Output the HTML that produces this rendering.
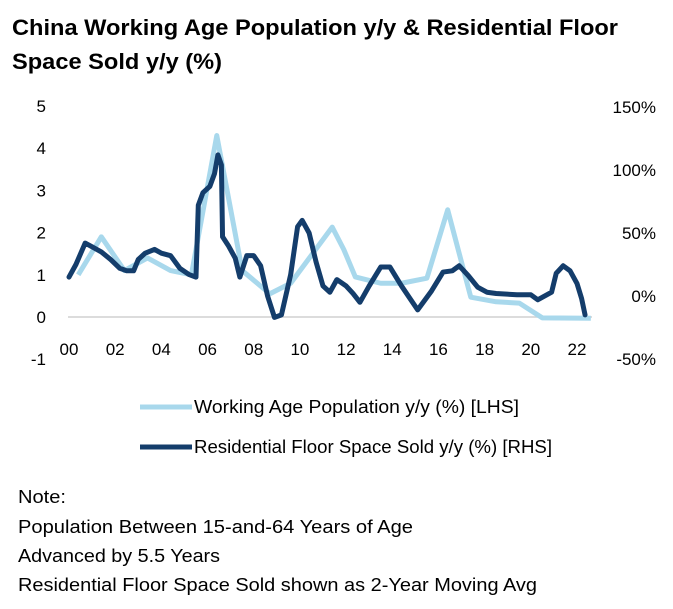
<!DOCTYPE html>
<html><head><meta charset="utf-8"><style>
body{margin:0;background:#fff;width:673px;height:609px;overflow:hidden;font-family:"Liberation Sans",sans-serif;color:#111}
svg{position:absolute;left:0;top:0}
</style></head><body>
<svg width="673" height="609">
<text x="12" y="35" font-size="22" font-weight="bold" textLength="606" lengthAdjust="spacingAndGlyphs">China Working Age Population y/y &amp; Residential Floor</text>
<text x="12" y="69" font-size="22" font-weight="bold" textLength="210" lengthAdjust="spacingAndGlyphs">Space Sold y/y (%)</text>
<line x1="68" x2="592" y1="317" y2="317" stroke="#d0d0d0" stroke-width="1.5"/>
<g id="yl" font-size="17"></g><g id="yr" font-size="17"></g><g id="xa" font-size="17"></g>
<g id="series"></g>
<line x1="140" x2="192" y1="407" y2="407" stroke="#a8d8ec" stroke-width="5"/>
<text x="194" y="413" font-size="18" textLength="325" lengthAdjust="spacingAndGlyphs">Working Age Population y/y (%) [LHS]</text>
<line x1="140" x2="192" y1="447" y2="447" stroke="#143d6b" stroke-width="5"/>
<text x="194" y="453" font-size="18" textLength="358" lengthAdjust="spacingAndGlyphs">Residential Floor Space Sold y/y (%) [RHS]</text>
<g font-size="18">
<text x="18" y="503" textLength="48" lengthAdjust="spacingAndGlyphs">Note:</text>
<text x="18" y="533" textLength="395" lengthAdjust="spacingAndGlyphs">Population Between 15-and-64 Years of Age</text>
<text x="18" y="562" textLength="202" lengthAdjust="spacingAndGlyphs">Advanced by 5.5 Years</text>
<text x="18" y="591" textLength="519" lengthAdjust="spacingAndGlyphs">Residential Floor Space Sold shown as 2-Year Moving Avg</text>
</g>
</svg>
<script>
const leftTicks=[5,4,3,2,1,0,-1];
const rightTicks=[150,100,50,0,-50];
const xTicks=["00","02","04","06","08","10","12","14","16","18","20","22"];
const popYears=[2000.4,2001.4,2002.4,2003.4,2004.4,2005.3,2006.4,2007.5,2008.7,2009.6,2011.4,2011.9,2012.4,2013.5,2014.4,2015.5,2016.4,2017.4,2018.5,2019.5,2020.5,2022.6];
const popValues=[1.0,1.9,1.1,1.4,1.1,1.0,4.3,1.1,0.55,0.8,2.13,1.6,0.95,0.8,0.8,0.92,2.54,0.47,0.36,0.33,-0.02,-0.03];
const floorYears=[2000,2000.3,2000.7,2001,2001.4,2001.8,2002.2,2002.5,2002.8,2003,2003.3,2003.7,2004,2004.4,2004.8,2005.2,2005.5,2005.6,2005.8,2006.1,2006.3,2006.45,2006.6,2006.65,2006.9,2007.2,2007.4,2007.7,2008,2008.3,2008.6,2008.9,2009.2,2009.6,2009.9,2010.1,2010.4,2010.7,2011,2011.3,2011.6,2012,2012.3,2012.6,2013.0,2013.5,2013.9,2014.4,2015.1,2015.7,2016.2,2016.6,2016.9,2017.3,2017.7,2018.1,2018.5,2019.4,2020.0,2020.3,2020.9,2021.1,2021.4,2021.7,2022,2022.2,2022.35];
const floorValues=[15,25,42,39,35,29,22,20,20,29,34,37,34,32,22,17,15,72,82,87,97,112,104,47,40,30,15,32,32,24,0,-17,-15,17,55,60,50,27,8,3,13,8,2,-5,8,23,23,8,-11,4,19,20,24,16,7,3,2,1,1,-3,3,18,24,20,10,-2,-15];
const X=y=>69+23.09*(y-2000), YL=v=>317-42.2*v, YR=p=>296-1.26*p;
const ns="http://www.w3.org/2000/svg";
function mk(t,parent,attrs,txt){const e=document.createElementNS(ns,t);for(const k in attrs)e.setAttribute(k,attrs[k]);if(txt!=null)e.textContent=txt;document.getElementById(parent).appendChild(e);return e;}
leftTicks.forEach(v=>{const e=mk("text","yl",{x:46,y:YL(v)+6,"text-anchor":"end"},String(v));

});
rightTicks.forEach(p=>{const e=mk("text","yr",{x:656,y:YR(p)+6,"text-anchor":"end"},p+"%");

});
xTicks.forEach((t,i)=>{const e=mk("text","xa",{x:X(2000+2*i),y:355,"text-anchor":"middle"},t);

});
const p1=mk("polyline","series",{points:popYears.map((y,i)=>X(y)+","+YL(popValues[i])).join(" "),fill:"none",stroke:"#a8d8ec","stroke-width":5,"stroke-linejoin":"round"});


const p2=mk("polyline","series",{points:floorYears.map((y,i)=>X(y)+","+YR(floorValues[i])).join(" "),fill:"none",stroke:"#143d6b","stroke-width":5,"stroke-linejoin":"round","stroke-linecap":"round"});


</script>
</body></html>
